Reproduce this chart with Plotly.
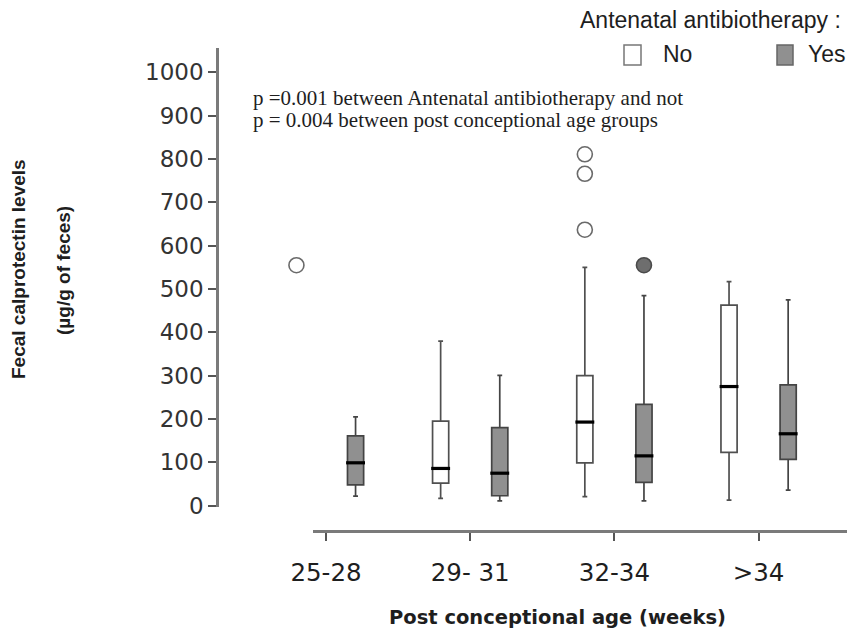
import plotly.graph_objects as go

# ---------------- data ----------------
categories = ["25-28", "29- 31", "32-34", ">34"]

# No antenatal antibiotherapy (None = no box for that group)
no_lower = [None, 17, 21, 13]
no_q1 = [None, 52, 99, 123]
no_median = [None, 86, 193, 275]
no_q3 = [None, 195, 300, 463]
no_upper = [None, 380, 550, 517]
no_outliers = [[555], [], [811, 766, 637], []]

# Antenatal antibiotherapy
yes_lower = [22, 11, 11, 36]
yes_q1 = [48, 23, 54, 107]
yes_median = [99, 75, 115, 166]
yes_q3 = [161, 180, 234, 279]
yes_upper = [205, 301, 485, 475]
yes_outliers = [[], [], [555], []]

y_ticks = list(range(0, 1001, 100))

# ---------------- geometry ----------------
W, H = 847, 630
ML, MR, MT, MB = 217, 0, 48, 99
PW = W - ML - MR
PH = H - MT - MB
OFF = 0.205     # offset of each box from the group centre (category units)
BOXW = 0.112    # box width (category units)

# x scale: group i centred at pixel 326 + 144.2*i
PX0, PXU = 326.0, 144.2
def px_to_u(px):
    return (px - PX0) / PXU

x_range = [px_to_u(ML), px_to_u(W - MR)]
x2_left_px = 312.7
x2_domain = [(x2_left_px - ML) / PW, 1]
x2_range = [px_to_u(x2_left_px), px_to_u(W - MR)]

y_bottom_px = 507
y_domain = [(H - MB - y_bottom_px) / PH, 1]
# y scale: 0 at pixel 505.7, 43.33 px per 100
def ypx_to_v(py):
    return (505.7 - py) / 0.4333
y_range = [ypx_to_v(y_bottom_px), ypx_to_v(MT)]

def paper_x(px):
    return (px - ML) / PW

def paper_y(py):
    return (H - MB - py) / PH

fig = go.Figure()

# category axis carrier (invisible trace on x2) - added first so it sits underneath
fig.add_trace(go.Scatter(
    x=categories, y=[None] * len(categories), xaxis="x2", yaxis="y",
    mode="markers", showlegend=False, hoverinfo="skip",
))

# ---------------- boxes ----------------
idx_no = [i for i in range(len(categories)) if no_q1[i] is not None]
idx_yes = [i for i in range(len(categories)) if yes_q1[i] is not None]

fig.add_trace(go.Box(
    x=[i - OFF for i in idx_no],
    lowerfence=[no_lower[i] for i in idx_no],
    q1=[no_q1[i] for i in idx_no],
    median=[no_median[i] for i in idx_no],
    q3=[no_q3[i] for i in idx_no],
    upperfence=[no_upper[i] for i in idx_no],
    width=BOXW, whiskerwidth=0.3,
    fillcolor="white", line=dict(color="#505050", width=1.7),
    boxpoints=False, showlegend=False, name="No",
))
fig.add_trace(go.Box(
    x=[i + OFF for i in idx_yes],
    lowerfence=[yes_lower[i] for i in idx_yes],
    q1=[yes_q1[i] for i in idx_yes],
    median=[yes_median[i] for i in idx_yes],
    q3=[yes_q3[i] for i in idx_yes],
    upperfence=[yes_upper[i] for i in idx_yes],
    width=BOXW, whiskerwidth=0.3,
    fillcolor="#909090", line=dict(color="#444444", width=1.7),
    boxpoints=False, showlegend=False, name="Yes",
))

# thick black medians
fig.add_trace(go.Scatter(
    x=[i - OFF for i in idx_no] + [i + OFF for i in idx_yes],
    y=[no_median[i] for i in idx_no] + [yes_median[i] for i in idx_yes],
    mode="markers",
    marker=dict(symbol="line-ew", size=13.5, color="black",
                line=dict(color="black", width=3.2)),
    showlegend=False, hoverinfo="skip",
))

# outliers
ox, oy = [], []
for i, vals in enumerate(no_outliers):
    for v in vals:
        ox.append(i - OFF)
        oy.append(v)
fig.add_trace(go.Scatter(
    x=ox, y=oy, mode="markers",
    marker=dict(symbol="circle", size=15, color="white",
                line=dict(color="#6a6a6a", width=1.6)),
    showlegend=False, cliponaxis=False,
))
yx, yy = [], []
for i, vals in enumerate(yes_outliers):
    for v in vals:
        yx.append(i + OFF)
        yy.append(v)
fig.add_trace(go.Scatter(
    x=yx, y=yy, mode="markers",
    marker=dict(symbol="circle", size=15, color="#6e6e6e",
                line=dict(color="#4a4a4a", width=1.6)),
    showlegend=False, cliponaxis=False,
))

AXC = "#7a7a7a"
TXT = "#1e1e1e"

fig.update_layout(
    width=W, height=H,
    margin=dict(l=ML, r=MR, t=MT, b=MB, pad=0),
    paper_bgcolor="white", plot_bgcolor="rgba(0,0,0,0)",
    boxmode="overlay",
    showlegend=False,
    xaxis=dict(domain=[0, 1], range=x_range, visible=False, anchor="y"),
    xaxis2=dict(
        type="category", categoryorder="array", categoryarray=categories,
        domain=x2_domain, range=x2_range, anchor="free", position=0,
        showline=True, linecolor=AXC, linewidth=2.5,
        ticks="outside", ticklen=8, tickwidth=1.5, tickcolor="#555",
        tickfont=dict(family="DejaVu Sans", size=24.5, color=TXT),
        ticklabelstandoff=11,
        showgrid=False, zeroline=False,
    ),
    yaxis=dict(
        domain=y_domain, range=y_range, anchor="free", position=0,
        tickmode="array", tickvals=y_ticks,
        showline=True, linecolor=AXC, linewidth=2.5,
        ticks="outside", ticklen=8, tickwidth=1.5, tickcolor="#555",
        tickfont=dict(family="DejaVu Sans", size=23, color="#333"),
        showgrid=False, zeroline=False,
    ),
)

ann = []
# axis titles
ann.append(dict(text="Post conceptional age (weeks)", x=paper_x(557), y=paper_y(617),
                xref="paper", yref="paper", xanchor="center", yanchor="middle",
                showarrow=False, font=dict(family="DejaVu Sans", size=19.5, color=TXT, weight="bold")))
ann.append(dict(text="Fecal calprotectin levels", x=paper_x(18), y=paper_y(269),
                xref="paper", yref="paper", xanchor="center", yanchor="middle", textangle=-90,
                showarrow=False, font=dict(family="Liberation Sans", size=19, color=TXT, weight="bold")))
ann.append(dict(text="(µg/g of feces)", x=paper_x(63), y=paper_y(271),
                xref="paper", yref="paper", xanchor="center", yanchor="middle", textangle=-90,
                showarrow=False, font=dict(family="Liberation Sans", size=19, color=TXT, weight="bold")))
# p-values
ann.append(dict(text="p =0.001 between Antenatal antibiotherapy and not", x=paper_x(251), y=paper_y(97.5),
                xref="paper", yref="paper", xanchor="left", yanchor="middle",
                showarrow=False, font=dict(family="Liberation Serif", size=21, color=TXT)))
ann.append(dict(text="p = 0.004 between post conceptional age groups", x=paper_x(251), y=paper_y(120.5),
                xref="paper", yref="paper", xanchor="left", yanchor="middle",
                showarrow=False, font=dict(family="Liberation Serif", size=21, color=TXT)))
# legend
ann.append(dict(text="Antenatal antibiotherapy :", x=paper_x(578), y=paper_y(20),
                xref="paper", yref="paper", xanchor="left", yanchor="middle",
                showarrow=False, font=dict(family="Liberation Sans", size=23, color=TXT)))
ann.append(dict(text="No", x=paper_x(661), y=paper_y(54),
                xref="paper", yref="paper", xanchor="left", yanchor="middle",
                showarrow=False, font=dict(family="Liberation Sans", size=23, color=TXT)))
ann.append(dict(text="Yes", x=paper_x(806), y=paper_y(54),
                xref="paper", yref="paper", xanchor="left", yanchor="middle",
                showarrow=False, font=dict(family="Liberation Sans", size=23, color=TXT)))
fig.update_layout(annotations=ann)

shapes = [
    dict(type="rect", xref="paper", yref="paper",
         x0=paper_x(624), x1=paper_x(641), y0=paper_y(65), y1=paper_y(45),
         fillcolor="white", line=dict(color="#777", width=1.5)),
    dict(type="rect", xref="paper", yref="paper",
         x0=paper_x(777), x1=paper_x(793), y0=paper_y(65), y1=paper_y(45),
         fillcolor="#909090", line=dict(color="#666", width=1.5)),
]
fig.update_layout(shapes=shapes)

fig.write_html("out.html")
